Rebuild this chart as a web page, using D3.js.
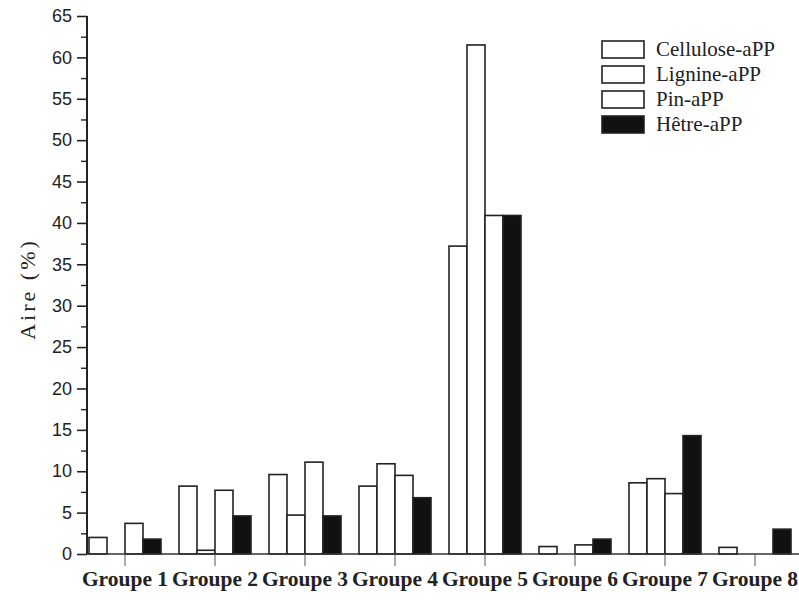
<!DOCTYPE html>
<html><head><meta charset="utf-8">
<script src="https://cdn.jsdelivr.net/npm/d3@7"></script>
<style>body{margin:0;background:#fff}</style>
</head><body>
<svg id="chart" width="799" height="604"></svg>
<script>
const groups = ["Groupe 1","Groupe 2","Groupe 3","Groupe 4","Groupe 5","Groupe 6","Groupe 7","Groupe 8"];
const seriesNames = ["Cellulose-aPP","Lignine-aPP","Pin-aPP","Hêtre-aPP"];
const cellulose = [2.0, 8.2, 9.6, 8.2, 37.2, 0.9, 8.6, 0.8];
const lignine   = [0,   0.45,4.7, 10.9,61.5, 0,   9.1, 0];
const pin       = [3.7, 7.7, 11.1,9.5, 40.9, 1.1, 7.3, 0];
const hetre     = [1.8, 4.6, 4.6, 6.8, 40.9, 1.8, 14.3,3.0];
const yTicks = [0,5,10,15,20,25,30,35,40,45,50,55,60,65];
const yMinor = [2.5,7.5,12.5,17.5,22.5,27.5,32.5,37.5,42.5,47.5,52.5,57.5,62.5];
const fills = ["#fff","#fff","#fff","#111"];

const svg = d3.select("#chart");
const allSeries = [cellulose, lignine, pin, hetre];

const x = d3.scaleBand().domain(groups).range([80, 800]).paddingInner(0.2).paddingOuter(0.1);
const xs = d3.scaleBand().domain(seriesNames).range([0, x.bandwidth()]);
const y = d3.scaleLinear().domain([0, 65]).range([554, 16]);
const axisX = 87;

// bars
groups.forEach((g, gi) => {
  seriesNames.forEach((s, si) => {
    const v = allSeries[si][gi];
    if (v <= 0) return;
    svg.append("rect")
      .attr("x", x(g) + xs(s))
      .attr("y", y(v))
      .attr("width", xs.bandwidth())
      .attr("height", y(0) - y(v))
      .attr("fill", fills[si])
      .attr("stroke", "#222")
      .attr("stroke-width", 1.6);
  });
});

// y axis
const yAxis = d3.axisLeft(y).tickValues(yTicks).tickSize(10).tickPadding(5);
const gy = svg.append("g").attr("transform", `translate(${axisX},0)`).call(yAxis);
gy.select(".domain").attr("stroke", "#222").attr("stroke-width", 2).attr("d", `M0,${y(65)}V${y(0)}`);
gy.selectAll(".tick line").attr("stroke", "#222").attr("stroke-width", 1.6);
gy.selectAll(".tick text").attr("font-family", "Liberation Sans, Arial, sans-serif").attr("font-size", 18).attr("fill", "#222");
const gym = svg.append("g").attr("transform", `translate(${axisX},0)`)
  .call(d3.axisLeft(y).tickValues(yMinor).tickSize(6).tickFormat(""));
gym.select(".domain").remove();
gym.selectAll(".tick line").attr("stroke", "#222").attr("stroke-width", 1.4);

// x axis
svg.append("line").attr("x1", axisX).attr("x2", 799).attr("y1", y(0)).attr("y2", y(0))
  .attr("stroke", "#333").attr("stroke-width", 1.4);
const xAxis = d3.axisBottom(x).tickSize(12).tickPadding(8);
const gx = svg.append("g").attr("transform", `translate(0,${y(0)})`).call(xAxis);
gx.select(".domain").remove();
gx.selectAll(".tick line").attr("stroke", "#555").attr("stroke-width", 1);
gx.selectAll(".tick text").attr("font-family", "Liberation Serif, Times New Roman, serif")
  .attr("font-weight", "bold").attr("font-size", 21.5).attr("fill", "#222").attr("dy", "0.55em");

// y label
svg.append("text").attr("transform", "translate(35,289) rotate(-90)")
  .attr("text-anchor", "middle").attr("font-family", "Liberation Serif, Times New Roman, serif")
  .attr("font-size", 22).attr("letter-spacing", 3).attr("fill", "#222").text("Aire (%)");

// legend
const leg = svg.append("g");
seriesNames.forEach((s, i) => {
  const yy = 41 + i * 25;
  leg.append("rect").attr("x", 602).attr("y", yy).attr("width", 42).attr("height", 17)
    .attr("fill", fills[i]).attr("stroke", "#222").attr("stroke-width", 1.6);
  leg.append("text").attr("x", 656).attr("y", yy + 15)
    .attr("font-family", "Liberation Serif, Times New Roman, serif").attr("font-size", 21)
    .attr("fill", "#222").text(s);
});
</script>
</body></html>
